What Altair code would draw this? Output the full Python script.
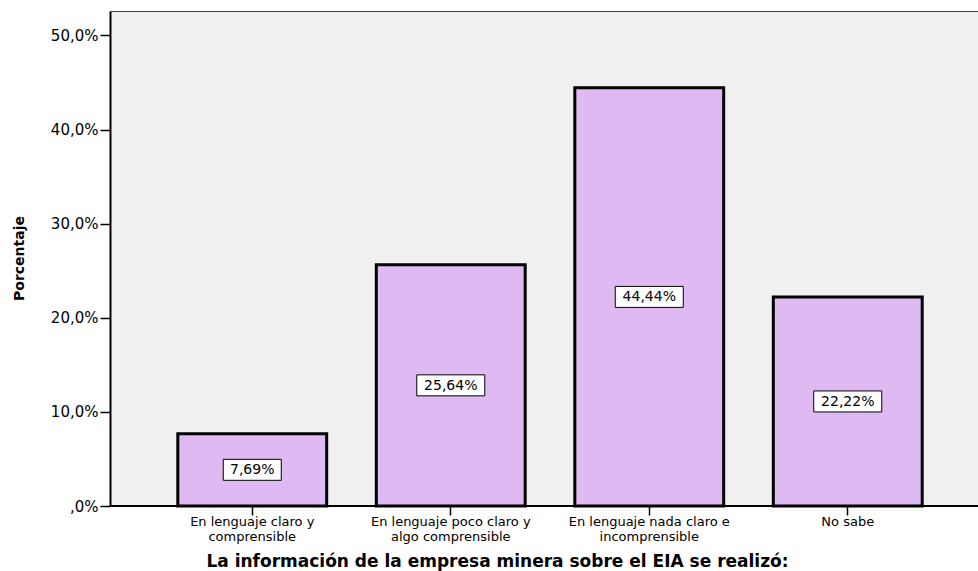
import altair as alt
import pandas as pd

# Survey answers (x categories) and the share of respondents for each
categories = [
    "En lenguaje claro y\ncomprensible",
    "En lenguaje poco claro y\nalgo comprensible",
    "En lenguaje nada claro e\nincomprensible",
    "No sabe",
]
percentages = [7.69, 25.64, 44.44, 22.22]
value_labels = ["7,69%", "25,64%", "44,44%", "22,22%"]
y_ticks = [0, 10, 20, 30, 40, 50]

df = pd.DataFrame({"cat": categories, "pct": percentages, "label": value_labels})

FONT = "DejaVu Sans"
W, H = 868, 495

x_enc = alt.X(
    "cat:N",
    sort=categories,
    scale=alt.Scale(range=[43, 837], paddingInner=0.25, paddingOuter=0.125),
    axis=alt.Axis(
        title="La información de la empresa minera sobre el EIA se realizó:",
        labelExpr="split(datum.value, '\\n')",
        labelAngle=0,
        labelFont=FONT,
        labelFontSize=13,
        labelLineHeight=15,
        labelColor="black",
        labelPadding=0,
        labelLimit=0,
        tickSize=9,
        tickColor="black",
        tickWidth=1.5,
        domain=False,
        titleFont=FONT,
        titleFontSize=17,
        titleFontWeight="bold",
        titleColor="black",
        titleX=387,
        titleY=60,
        titleAlign="center",
        titleBaseline="alphabetic",
    ),
)

y_scale = alt.Scale(domain=[0, 52.6], nice=False, zero=True)

y_axis = alt.Axis(
    values=y_ticks,
    labelExpr="datum.value == 0 ? ',0%' : replace(format(datum.value, '.1f'), '.', ',') + '%'",
    labelFont=FONT,
    labelFontSize=15,
    labelColor="black",
    labelPadding=2,
    tickSize=10,
    tickColor="black",
    tickWidth=1.5,
    domainColor="black",
    domainWidth=2,
    grid=False,
    title="Porcentaje",
    titleFont=FONT,
    titleFontSize=14,
    titleFontWeight="bold",
    titleColor="black",
    titleX=-84,
    titleY=247,
)

base = alt.Chart(df)

bars = base.mark_bar(
    fill="#DFB9F2", stroke="black", strokeWidth=3
).encode(
    x=x_enc,
    y=alt.Y("pct:Q", scale=y_scale, axis=y_axis),
)

# White framed boxes holding the value labels, centred at half bar height
label_pos = base.transform_calculate(
    mid="datum.pct / 2",
    half="length(datum.label) * 5 + 4",
    box="'M' + (-datum.half) + ',-10.5H' + datum.half + 'V10.5H' + (-datum.half) + 'Z'",
)

boxes = label_pos.mark_point(
    filled=True, fill="white", stroke="black", strokeWidth=1, size=4, opacity=1
).encode(
    x=alt.X("cat:N", sort=categories),
    y=alt.Y("mid:Q"),
    shape=alt.Shape("box:N", scale=None, legend=None),
)

texts = label_pos.mark_text(
    font=FONT, fontSize=14, color="black", baseline="middle", align="center", dy=0.5
).encode(
    x=alt.X("cat:N", sort=categories),
    y=alt.Y("mid:Q"),
    text="label:N",
)

# Frame lines: dark top edge and the black baseline across the whole plot
top_line = base.mark_rule(color="#404040", strokeWidth=1).encode(
    x=alt.value(0), x2=alt.value(W), y=alt.value(0.5)
)
base_line = base.mark_rule(color="black", strokeWidth=1.5).encode(
    x=alt.value(0), x2=alt.value(W), y=alt.value(H)
)

chart = (
    alt.layer(bars, boxes, texts, top_line, base_line)
    .properties(
        width=W,
        height=H,
        autosize=alt.AutoSizeParams(type="none"),
        padding={"left": 110, "top": 11, "right": 0, "bottom": 65},
        background="white",
    )
    .configure_view(fill="#F0F0F0", stroke=None)
)

chart.save("out.html", embed_options={"renderer": "svg", "actions": False})
